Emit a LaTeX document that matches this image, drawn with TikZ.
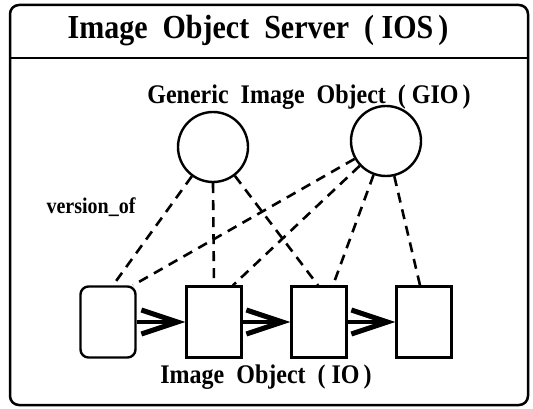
\documentclass[tikz,border=0pt]{standalone}
\usepackage{fontspec}
\setmainfont{Liberation Serif}
\usetikzlibrary{arrows.meta,calc}
\newcommand{\tallbox}[1]{\scalebox{1}[1.12]{#1}}
\begin{document}
\begin{tikzpicture}[x=1pt,y=-1pt,
  frame/.style={draw, line width=2.5pt, rounded corners=9pt},
  gio/.style={circle, draw, line width=2.4pt, minimum size=70pt, inner sep=0pt},
  io/.style={draw, line width=2.4pt, minimum width=55pt, minimum height=71pt, inner sep=0pt},
  iofirst/.style={io, rounded corners=8pt},
  link/.style={line width=2.6pt, dash pattern=on 10pt off 7pt},
  succ/.style={line width=3.6pt, -{Straight Barb[length=36pt,width=24pt,line width=5pt]}},
  heading/.style={font=\fontsize{30}{34}\selectfont\bfseries, inner sep=0pt},
  lbl/.style={font=\fontsize{24}{28}\selectfont\bfseries, inner sep=0pt},
  small/.style={font=\fontsize{20}{23}\selectfont\bfseries, inner sep=0pt}
]
\useasboundingbox (0,0) rectangle (533,409);

% server frame with its title band
\draw[frame] (10,5) rectangle (528,405);
\coordinate (bandL) at (10,58);
\coordinate (bandR) at (528,58);
\draw[line width=2.2pt] (bandL) -- (bandR);
\node[heading] (title) at (258,31) {\tallbox{Image\ \ Object\ \ Server\ \ (\ IOS\,)}};

% generic image objects
\node[lbl] (giolabel) at (309,97) {\tallbox{Generic\ \ Image\ \ Object\ \ (\ GIO\,)}};
\node[gio] (g1) at (213,147) {};
\node[gio] (g2) at (386,141) {};

% image objects
\node[iofirst] (b1) at (108,322) {};
\node[io] (b2) at (214,322) {};
\node[io] (b3) at (319,322) {};
\node[io] (b4) at (424,322) {};
\node[lbl] (iolabel) at (266,377) {\tallbox{Image\ \ Object\ \ (\ IO\,)}};

\node[small] (ver) at (91,207) {\tallbox{version\_of}};

% version_of links
\draw[link] (g1) -- ([xshift=5pt]b1.north);
\draw[link] (g1.south) -- (b2.north);
\draw[link] (g1) -- ([xshift=-1pt]b3.north);
\draw[link] (g2) -- ([xshift=25pt]b1.north);
\draw[link] (g2) -- ([xshift=19pt]b2.north);
\draw[link] (g2) -- ([xshift=14pt]b3.north);
\draw[link] (g2) -- ([xshift=-4pt]b4.north);

% successor arrows
\draw[succ] (b1.east) -- (b2.west);
\draw[succ] (b2.east) -- (b3.west);
\draw[succ] (b3.east) -- (b4.west);
\end{tikzpicture}
\end{document}
